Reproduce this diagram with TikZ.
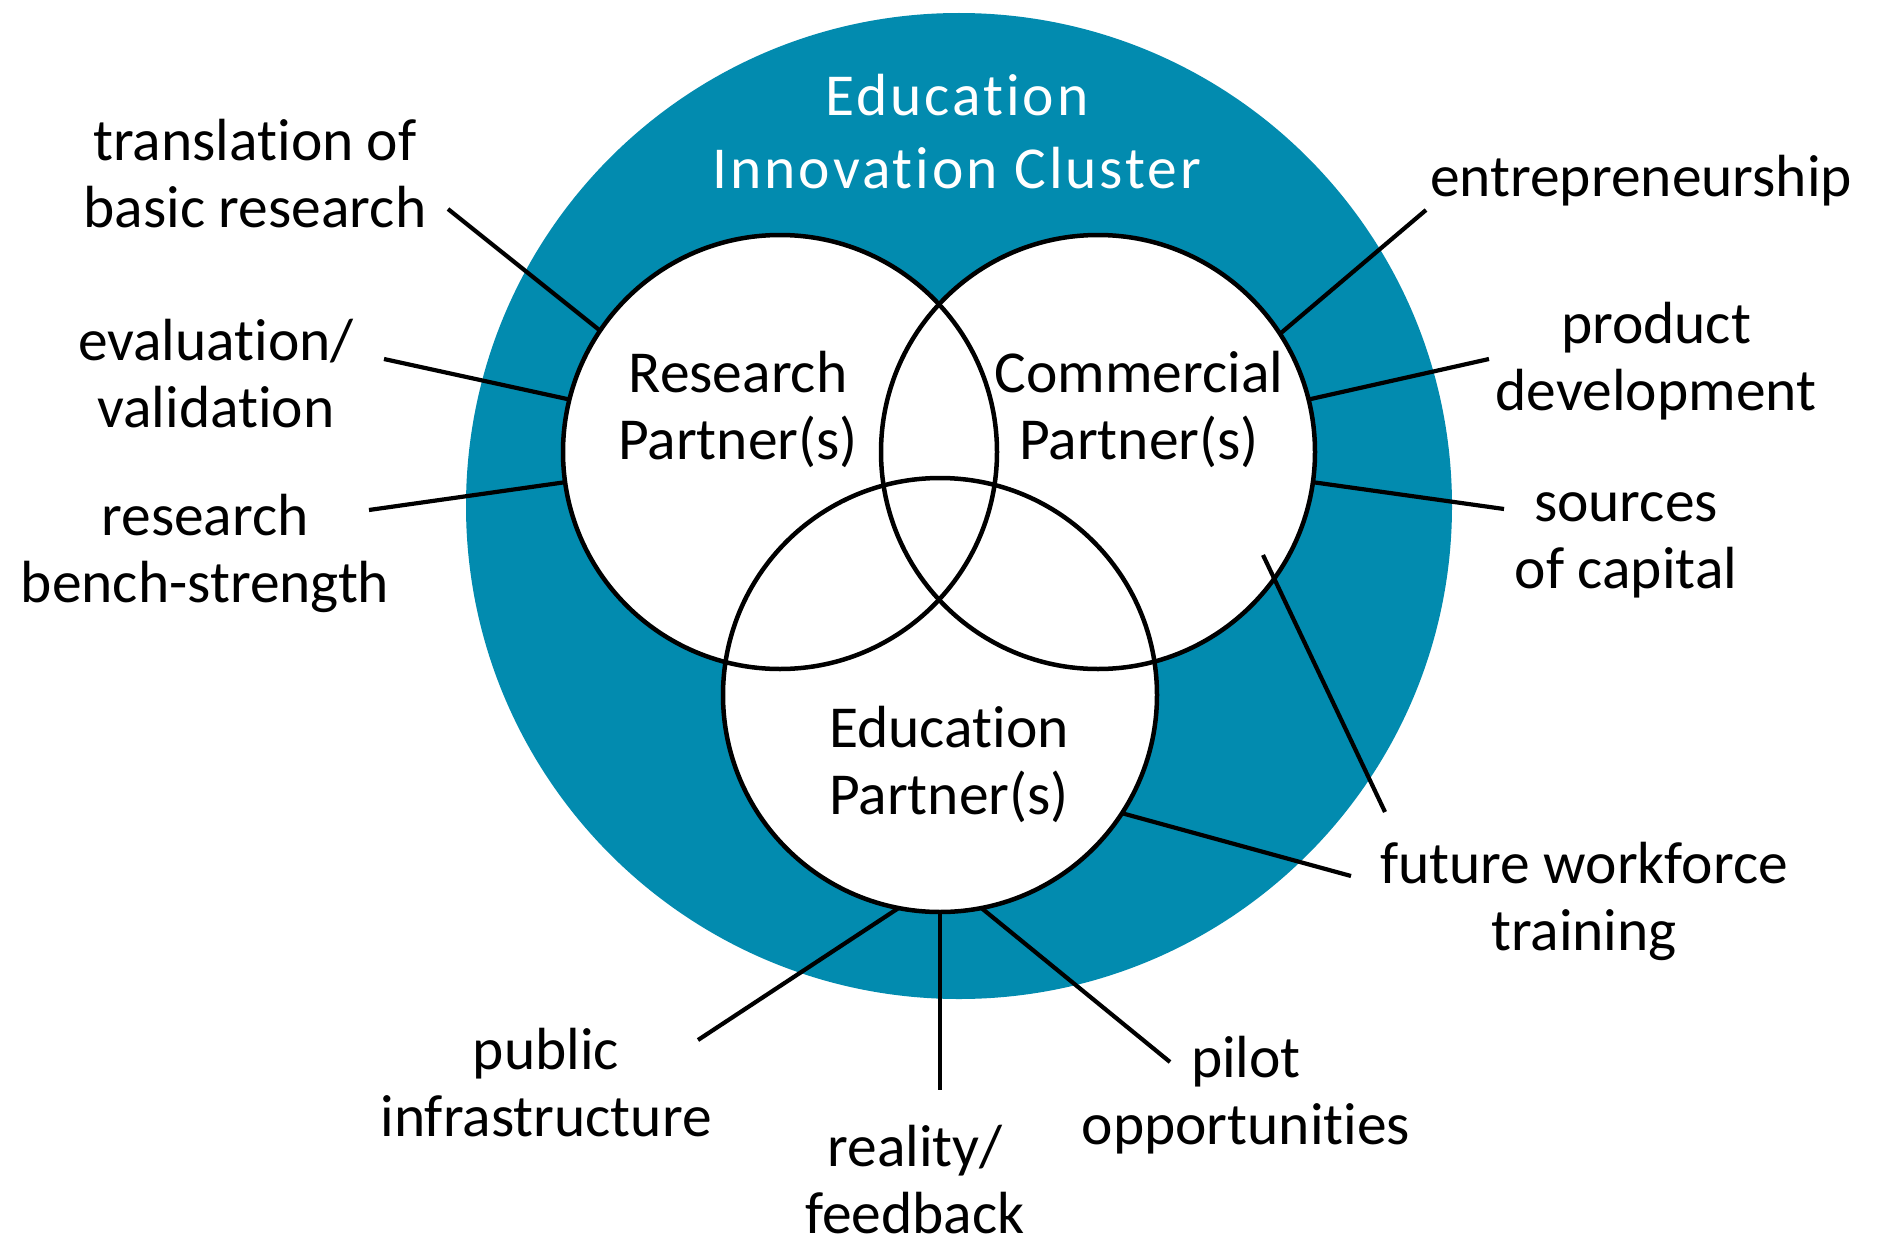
\documentclass[tikz,border=0pt]{standalone}
\usepackage{fontspec}
\setmainfont{Carlito}[Ligatures=NoCommon]
\definecolor{clusterblue}{RGB}{2,139,175}
\begin{document}
\begin{tikzpicture}[x=1pt,y=-1pt,
  lbl/.style={font=\fontsize{59.5}{66.5}\selectfont, align=center, anchor=base, inner sep=0pt, text=black},
  ttl/.style={font=\fontsize{59.5}{73}\selectfont\addfontfeature{LetterSpace=5}, align=center, anchor=base, inner sep=0pt, text=white},
  partner/.style={circle, minimum size=434pt, inner sep=0pt, outer sep=0pt, fill=white},
  ringline/.style={line width=4.5pt, draw=black},
  conn/.style={line width=4.2pt, draw=black}]
\useasboundingbox (0,0) rectangle (1877,1247);
\fill[white] (0,0) rectangle (1877,1247);
% outer cluster
\node[circle, minimum size=986pt, inner sep=0pt, outer sep=0pt, fill=clusterblue] (cluster) at (959,506) {};
% partner circles (fills)
\node[partner] (R) at (780,452) {};
\node[partner] (C) at (1098,452) {};
\node[partner] (E) at (940,695) {};
% outlines
\draw[ringline] (R.center) circle[radius=217pt];
\draw[ringline] (C.center) circle[radius=217pt];
\draw[ringline] (E.center) circle[radius=217pt];
% title (anchor at baseline of last line)
\node[ttl] (title) at (957,188) {Education\\Innovation Cluster};
% inner labels
\node[lbl] (Rl) at (738,459) {Research\\Partner(s)};
\node[lbl] (Cl) at (1139,459) {Commercial\\Partner(s)};
\node[lbl] (El) at (949,814) {Education\\Partner(s)};
% outer labels
\node[lbl] (l1) at (255,227) {translation of\\basic research};
\node[lbl] (l2) at (216,427) {evaluation/\\validation};
\node[lbl] (l3) at (205,602) {research\\bench-strength};
\node[lbl] (l4) at (1641,196) {entrepreneurship};
\node[lbl] (l5) at (1656,410) {product\\development};
\node[lbl] (l6) at (1626,588) {sources\\of capital};
\node[lbl] (l7) at (1584,950) {future workforce\\training};
\node[lbl] (l8) at (1246,1144) {pilot\\opportunities};
\node[lbl] (l9) at (915,1233) {reality/\\feedback};
\node[lbl] (l10) at (546,1136) {public\\infrastructure};
% connector ends
\coordinate (t1) at (448,209);
\coordinate (t2) at (384,359);
\coordinate (t3) at (369,510);
\coordinate (t4) at (1426,210);
\coordinate (t5) at (1489,359);
\coordinate (t6) at (1504,509);
\coordinate (t7s) at (1263,555);
\coordinate (t7a) at (1385,812);
\coordinate (t7b) at (1351,876);
\coordinate (t8) at (1170,1062);
\coordinate (t9) at (940,1090);
\coordinate (t10) at (698,1040);
% connectors
\draw[conn] (R.146) -- (t1);
\draw[conn] (R.166) -- (t2);
\draw[conn] (R.188) -- (t3);
\draw[conn] (C.33) -- (t4);
\draw[conn] (C.14.5) -- (t5);
\draw[conn] (C.352.5) -- (t6);
\draw[conn] (t7s) -- (t7a);
\draw[conn] (E.327) -- (t7b);
\draw[conn] (E.281) -- (t8);
\draw[conn] (E.270) -- (t9);
\draw[conn] (E.259) -- (t10);
\end{tikzpicture}
\end{document}
